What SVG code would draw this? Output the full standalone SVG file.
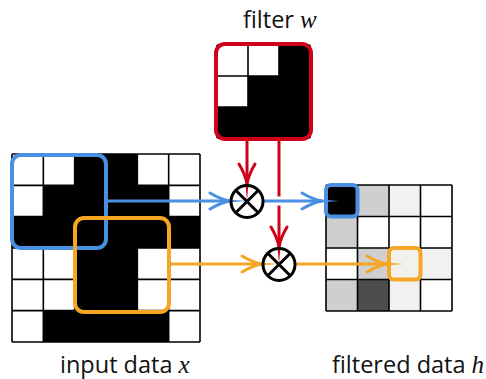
<svg xmlns="http://www.w3.org/2000/svg" xmlns:xlink="http://www.w3.org/1999/xlink" width="486" height="379" viewBox="0 0 486 379">
<style>
.lbl{font-family:"Open Sans","Noto Sans","Liberation Sans",sans-serif;font-size:23.5px;fill:#111}
.math{font-family:"Liberation Serif","DejaVu Serif",serif;font-style:italic;font-size:25px}
.grid{fill:none;stroke:#000;stroke-width:1.6}
.blk{fill:#000}
.blue{color:#4a90e2;stroke:#4a90e2}
.orange{color:#f5a623;stroke:#f5a623}
.red{color:#d0021b;stroke:#d0021b}
.box{fill:none;stroke-width:4}
.shaft{fill:none;stroke-width:3}
.op{fill:none;stroke:#000;stroke-width:3}
</style>
<defs>
<g id="ah">
<path d="M-20,-8 Q-9,-1.5 0,0 Q-9,1.5 -20,8" fill="none" stroke="currentColor" stroke-width="3" stroke-linecap="round" stroke-linejoin="round"/>
<path d="M-2,-1.6 L17,0 L-2,1.6Z" fill="currentColor" stroke="none"/>
</g>
</defs>
<rect width="486" height="379" fill="#fff"/>

<g id="input">
<rect x="12" y="154" width="188" height="188" fill="#fff"/>
<rect class="blk" x="74.67" y="154" width="62.67" height="31.33"/>
<rect class="blk" x="43.33" y="185.33" width="125.33" height="31.33"/>
<rect class="blk" x="12" y="216.67" width="188" height="31.33"/>
<rect class="blk" x="74.67" y="248" width="62.67" height="62.67"/>
<rect class="blk" x="43.33" y="310.67" width="125.33" height="31.33"/>
<path class="grid" d="M12,154V342M43.33,154V342M74.67,154V342M106,154V342M137.33,154V342M168.67,154V342M200,154V342M12,154H200M12,185.33H200M12,216.67H200M12,248H200M12,279.33H200M12,310.67H200M12,342H200"/>
<text class="lbl" x="60" y="373">input data <tspan class="math">x</tspan></text>
</g>

<g id="filter">
<rect x="217" y="45" width="93" height="93" fill="#fff"/>
<rect class="blk" x="279" y="45" width="31" height="31"/>
<rect class="blk" x="248" y="76" width="62" height="31"/>
<rect class="blk" x="217" y="107" width="93" height="31"/>
<path class="grid" d="M217,45V138M248,45V138M279,45V138M310,45V138M217,45H310M217,76H310M217,107H310M217,138H310"/>
<rect class="box red" x="216" y="44" width="95" height="95" rx="9"/>
<text class="lbl" x="243" y="28">filter <tspan class="math">w</tspan></text>
</g>

<g id="output">
<rect x="326" y="185" width="126" height="126" fill="#fff"/>
<rect x="326" y="185" width="31.5" height="31.5" fill="#000"/>
<rect x="357.5" y="185" width="31.5" height="31.5" fill="#cfcfcf"/>
<rect x="389" y="185" width="31.5" height="31.5" fill="#f2f1f0"/>
<rect x="326" y="216.5" width="31.5" height="31.5" fill="#cfcfcf"/>
<rect x="357.5" y="248" width="31.5" height="31.5" fill="#cfcfcf"/>
<rect x="389" y="248" width="63" height="31.5" fill="#f2f1f0"/>
<rect x="326" y="279.5" width="31.5" height="31.5" fill="#cfcfcf"/>
<rect x="357.5" y="279.5" width="31.5" height="31.5" fill="#4d4d4d"/>
<rect x="389" y="279.5" width="31.5" height="31.5" fill="#f2f1f0"/>
<path class="grid" d="M326,185V311M357.5,185V311M389,185V311M420.5,185V311M452,185V311M326,185H452M326,216.5H452M326,248H452M326,279.5H452M326,311H452"/>
<text class="lbl" x="332" y="373">filtered data <tspan class="math">h</tspan></text>
</g>

<g id="windows">
<rect class="box blue" x="12" y="155" width="94" height="93" rx="9"/>
<rect class="box orange" x="75" y="218" width="94" height="94" rx="9"/>
<rect class="box blue" x="326" y="185" width="31.5" height="31.5" rx="5"/>
<rect class="box orange" x="389" y="248" width="31.5" height="31.5" rx="5"/>
</g>

<g id="connectors">
<line class="shaft red" x1="247" y1="139" x2="247" y2="183"/>
<use xlink:href="#ah" href="#ah" class="red" transform="translate(247,184) rotate(90)"/>
<line class="shaft red" x1="279" y1="139" x2="279" y2="246"/>
<use xlink:href="#ah" href="#ah" class="red" transform="translate(279,247) rotate(90)"/>
<line class="shaft blue" x1="108" y1="201" x2="229" y2="201"/>
<use xlink:href="#ah" href="#ah" class="blue" transform="translate(230,201)"/>
<line x1="266" y1="201" x2="318" y2="201" stroke="#fff" stroke-width="9"/>
<line class="shaft blue" x1="264" y1="201" x2="321" y2="201"/>
<use xlink:href="#ah" href="#ah" class="blue" transform="translate(322,201)"/>
<line class="shaft orange" x1="171" y1="264" x2="261" y2="264"/>
<use xlink:href="#ah" href="#ah" class="orange" transform="translate(262,264)"/>
<line class="shaft orange" x1="296" y1="264" x2="386" y2="264"/>
<use xlink:href="#ah" href="#ah" class="orange" transform="translate(387,264)"/>
</g>

<g id="op1">
<circle class="op" cx="247" cy="201.5" r="16"/>
<path class="op" d="M235.7,190.2L258.3,212.8M258.3,190.2L235.7,212.8"/>
</g>
<g id="op2">
<circle class="op" cx="279" cy="264.5" r="16"/>
<path class="op" d="M267.7,253.2L290.3,275.8M290.3,253.2L267.7,275.8"/>
</g>
</svg>
